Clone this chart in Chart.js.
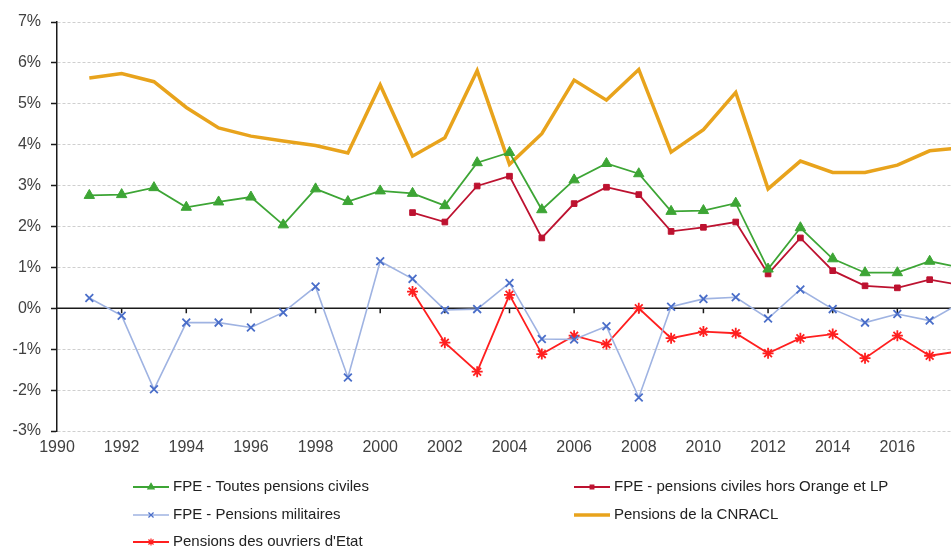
<!DOCTYPE html>
<html>
<head>
<meta charset="utf-8">
<script src="https://cdn.jsdelivr.net/npm/chart.js@4.4.1/dist/chart.umd.min.js"></script>
<style>
    body { margin: 0; background: #fff; }
    #chart { display: block; }
</style>
</head>
<body>
<canvas id="chart" width="951" height="551"></canvas>
<script>
// Years on the x axis (the last one is cut off by the right edge)
const years = [1991, 1992, 1993, 1994, 1995, 1996, 1997, 1998, 1999, 2000,
    2001, 2002, 2003, 2004, 2005, 2006, 2007, 2008, 2009, 2010,
    2011, 2012, 2013, 2014, 2015, 2016, 2017, 2018];
const xTickYears = [1990, 1992, 1994, 1996, 1998, 2000, 2002, 2004, 2006, 2008, 2010, 2012, 2014, 2016];
const yTickValues = [-3, -2, -1, 0, 1, 2, 3, 4, 5, 6, 7];

const seriesNames = [
    'FPE - Toutes pensions civiles',
    'FPE - pensions civiles hors Orange et LP',
    'FPE - Pensions militaires',
    'Pensions de la CNRACL',
    "Pensions des ouvriers d'Etat"
];

// values in %
const fpeToutes = [2.76, 2.78, 2.95, 2.47, 2.60, 2.72, 2.04, 2.92, 2.61, 2.87,
    2.81, 2.51, 3.56, 3.81, 2.41, 3.14, 3.54, 3.29, 2.37, 2.39,
    2.57, 0.96, 1.97, 1.21, 0.87, 0.87, 1.15, 0.99];
const fpeHorsOrange = [null, null, null, null, null, null, null, null, null, null,
    2.34, 2.11, 2.99, 3.23, 1.72, 2.56, 2.96, 2.78, 1.88, 1.98,
    2.11, 0.84, 1.72, 0.92, 0.55, 0.50, 0.70, 0.56];
const fpeMilitaires = [0.25, -0.18, -1.98, -0.35, -0.35, -0.47, -0.10, 0.53, -1.69, 1.15,
    0.72, -0.04, -0.02, 0.62, -0.75, -0.76, -0.44, -2.18, 0.04, 0.23,
    0.27, -0.25, 0.46, -0.02, -0.35, -0.14, -0.30, 0.15];
const cnracl = [5.63, 5.74, 5.54, 4.91, 4.41, 4.21, 4.09, 3.98, 3.80, 5.46,
    3.72, 4.17, 5.81, 3.52, 4.27, 5.58, 5.09, 5.84, 3.82, 4.37,
    5.28, 2.92, 3.60, 3.32, 3.32, 3.50, 3.85, 3.93];
const ouvriersEtat = [null, null, null, null, null, null, null, null, null, null,
    0.41, -0.84, -1.55, 0.33, -1.12, -0.67, -0.88, 0.00, -0.73, -0.57,
    -0.61, -1.10, -0.73, -0.63, -1.22, -0.67, -1.16, -1.04];

const TEXT = '#404040';
const FONT = '"Liberation Sans", Arial, sans-serif';

// zero axis line with small tick marks, Excel style
const zeroAxis = {
    id: 'zeroAxis',
    beforeDatasetsDraw(chart) {
        const { ctx, chartArea, scales: { x, y } } = chart;
        const y0 = y.getPixelForValue(0);
        ctx.save();
        ctx.strokeStyle = '#1a1a1a';
        ctx.lineWidth = 1.5;
        ctx.beginPath();
        ctx.moveTo(chartArea.left, y0);
        ctx.lineTo(chartArea.right, y0);
        x.ticks.forEach(t => {
            const px = x.getPixelForValue(t.value);
            if (px > chartArea.left + 2) {
                ctx.moveTo(px, y0);
                ctx.lineTo(px, y0 + 5);
            }
        });
        ctx.stroke();
        ctx.restore();
    }
};

// legend in two columns below the chart
const bottomLegend = {
    id: 'bottomLegend',
    afterDraw(chart) {
        const { ctx } = chart;
        const colX = [133, 574];
        const rowY = [487, 515, 542];
        ctx.save();
        ctx.font = '15px ' + FONT;
        ctx.textBaseline = 'middle';
        chart.data.datasets.forEach((ds, i) => {
            const x = colX[i % 2];
            const y = rowY[Math.floor(i / 2)];
            ctx.strokeStyle = ds.borderColor;
            ctx.lineWidth = ds.borderWidth;
            ctx.beginPath();
            ctx.moveTo(x, y);
            ctx.lineTo(x + 36, y);
            ctx.stroke();
            if (ds.pointRadius > 0) {
                ctx.fillStyle = ds.pointBackgroundColor;
                ctx.strokeStyle = ds.pointBorderColor;
                ctx.lineWidth = 1.2;
                Chart.helpers.drawPoint(ctx, {
                    pointStyle: ds.pointStyle,
                    radius: ds.pointStyle === 'rect' ? 2.6 : 3.6,
                    borderWidth: 1.2,
                    rotation: 0
                }, x + 18, y);
            }
            ctx.fillStyle = '#222';
            ctx.fillText(ds.label, x + 40, y);
        });
        ctx.restore();
    }
};

const ctx = document.getElementById('chart').getContext('2d');
new Chart(ctx, {
    type: 'line',
    data: {
        labels: years,
        datasets: [{
            label: seriesNames[0],
            data: fpeToutes,
            borderColor: '#3da535',
            pointBackgroundColor: '#3da535',
            pointBorderColor: '#3da535',
            pointStyle: 'triangle',
            pointRadius: 6,
            pointBorderWidth: 1,
            borderWidth: 1.8
        }, {
            label: seriesNames[1],
            data: fpeHorsOrange,
            borderColor: '#bd1230',
            pointBackgroundColor: '#bd1230',
            pointBorderColor: '#bd1230',
            pointStyle: 'rect',
            pointRadius: 4,
            pointBorderWidth: 1,
            borderWidth: 1.8
        }, {
            label: seriesNames[2],
            data: fpeMilitaires,
            borderColor: '#9fb3e2',
            pointBackgroundColor: '#4a6ec9',
            pointBorderColor: '#4a6ec9',
            pointStyle: 'crossRot',
            pointRadius: 5.5,
            pointBorderWidth: 1.8,
            borderWidth: 1.6
        }, {
            label: seriesNames[3],
            data: cnracl,
            borderColor: '#e8a31c',
            pointRadius: 0,
            borderWidth: 3.5
        }, {
            label: seriesNames[4],
            data: ouvriersEtat,
            borderColor: '#ff1f1f',
            pointBackgroundColor: '#ff1f1f',
            pointBorderColor: '#ff1f1f',
            pointStyle: 'star',
            pointRadius: 5.5,
            pointBorderWidth: 1.8,
            borderWidth: 1.8
        }]
    },
    options: {
        responsive: false,
        animation: false,
        layout: { autoPadding: false, padding: { top: 22, left: 0, right: 0, bottom: 86 } },
        plugins: {
            legend: { display: false },
            tooltip: { enabled: false }
        },
        scales: {
            x: {
                type: 'linear',
                min: 1990,
                max: 2017.66,
                grid: { display: false, drawTicks: false },
                border: { display: false },
                afterBuildTicks: scale => { scale.ticks = xTickYears.map(v => ({ value: v })); },
                afterFit: scale => {
                    scale.height = 34;
                    scale.paddingLeft = 0;
                    scale.paddingRight = 0;
                },
                ticks: {
                    padding: 7,
                    color: TEXT,
                    font: { family: FONT, size: 16 },
                    maxRotation: 0,
                    callback: v => String(v)
                }
            },
            y: {
                min: -3,
                max: 7,
                afterBuildTicks: scale => { scale.ticks = yTickValues.map(v => ({ value: v })); },
                afterFit: scale => { scale.width = 57; },
                grid: {
                    color: c => (c.tick && c.tick.value === 0) ? 'rgba(0,0,0,0)' : '#cfcfcf',
                    lineWidth: 1,
                    tickLength: 6,
                    tickColor: '#1a1a1a',
                    tickWidth: 1.5
                },
                border: { display: true, color: '#1a1a1a', width: 1.5, dash: [3, 2] },
                ticks: {
                    padding: 10,
                    color: TEXT,
                    font: { family: FONT, size: 16 },
                    callback: v => v + '%'
                }
            }
        }
    },
    plugins: [zeroAxis, bottomLegend]
});
</script>
</body>
</html>
